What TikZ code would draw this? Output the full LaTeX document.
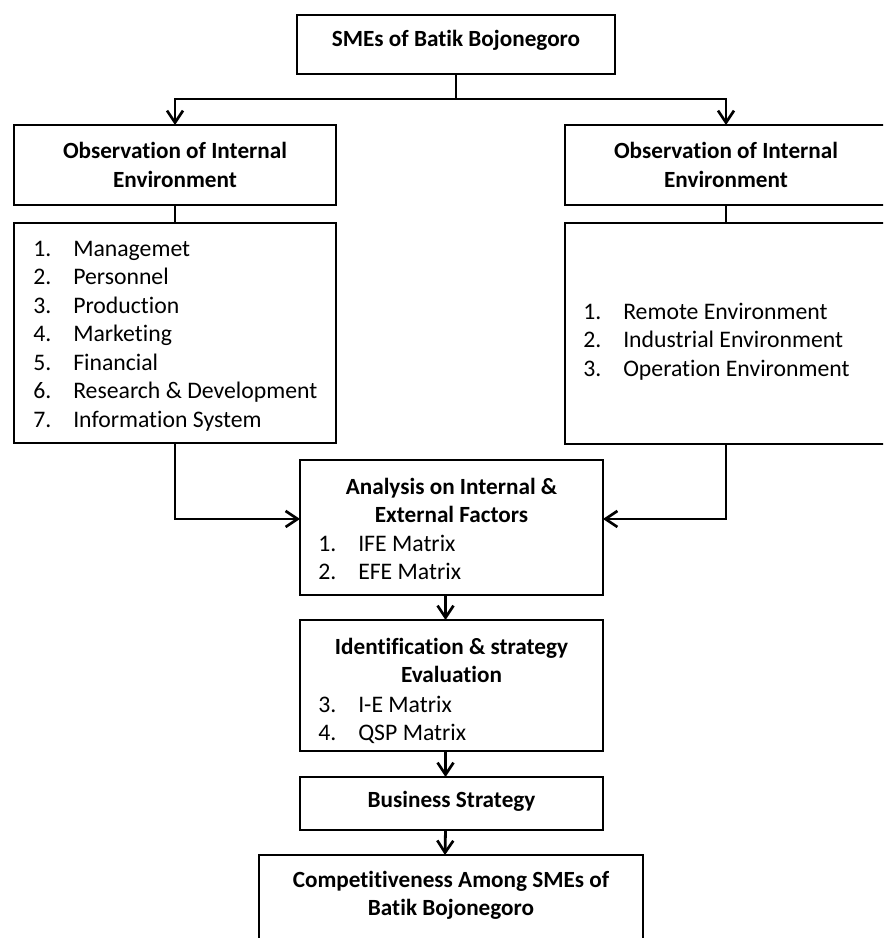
\documentclass[tikz,border=0pt]{standalone}
\usepackage{fontspec}
\setmainfont{Carlito}[Ligatures=NoCommon]
\usetikzlibrary{arrows.meta}
\begin{document}
\begin{tikzpicture}[x=0.75pt,y=-0.75pt,
  box/.style={draw=black, line width=2.1pt, inner sep=0pt, outer sep=0pt, anchor=north west},
  ttl/.style={inner sep=0pt, anchor=base, font=\fontsize{17.4}{21.2}\selectfont\bfseries},
  lst/.style={inner sep=0pt, anchor=base west, font=\fontsize{17.8}{21.4}\selectfont},
  conn/.style={line width=2.1pt},
  arr/.style={conn, -{Straight Barb[length=9pt,width=12pt,line width=2pt]}}]
\useasboundingbox (0,0) rectangle (883,938);
\clip (0,0) rectangle (883,938);
\fill[white] (0,0) rectangle (883,938);

% boxes
\node[box, minimum width=238.5pt, minimum height=44.25pt] (top) at (297,15) {};
\node[box, minimum width=241.5pt, minimum height=60pt] (obsL) at (14,125) {};
\node[box, minimum width=241.5pt, minimum height=60pt] (obsR) at (565,125) {};
\node[box, minimum width=241.5pt, minimum height=165pt] (listL) at (14,223) {};
\node[box, minimum width=241.5pt, minimum height=165.75pt] (listR) at (565,223) {};
\node[box, minimum width=227.25pt, minimum height=101.25pt] (ana) at (300,460) {};
\node[box, minimum width=227.25pt, minimum height=98.25pt] (ident) at (300,620) {};
\node[box, minimum width=227.25pt, minimum height=39.75pt] (bus) at (300,777) {};
\node[box, minimum width=288pt, minimum height=75pt] (comp) at (259,855) {};

% texts
\node[ttl] (tTop) at (456,47) {SMEs of Batik Bojonegoro};
\node[ttl] (tObsL) at (175,159) {\begin{tabular}[t]{@{}c@{}}Observation of Internal\\Environment\end{tabular}};
\node[ttl] (tObsR) at (726,159) {\begin{tabular}[t]{@{}c@{}}Observation of Internal\\Environment\end{tabular}};
\node[lst] (iL) at (33,256) {\begin{tabular}[t]{@{}p{30pt}@{}l@{}}
1.&Managemet\\2.&Personnel\\3.&Production\\4.&Marketing\\5.&Financial\\6.&Research \& Development\\7.&Information System\end{tabular}};
\node[lst] (iR) at (583,319) {\begin{tabular}[t]{@{}p{30pt}@{}l@{}}
1.&Remote Environment\\2.&Industrial Environment\\3.&Operation Environment\end{tabular}};
\node[ttl] (tAna) at (451.5,494) {\begin{tabular}[t]{@{}c@{}}Analysis on Internal \&\\External Factors\end{tabular}};
\node[lst] (iAna) at (318,551) {\begin{tabular}[t]{@{}p{30pt}@{}l@{}}
1.&IFE Matrix\\2.&EFE Matrix\end{tabular}};
\node[ttl] (tIdent) at (451.5,654) {\begin{tabular}[t]{@{}c@{}}Identification \& strategy\\Evaluation\end{tabular}};
\node[lst] (iIdent) at (318,712) {\begin{tabular}[t]{@{}p{30pt}@{}l@{}}
3.&I-E Matrix\\4.&QSP Matrix\end{tabular}};
\node[ttl] (tBus) at (451.5,807) {Business Strategy};
\node[ttl] (tComp) at (451,887) {\begin{tabular}[t]{@{}c@{}}Competitiveness Among SMEs of\\Batik Bojonegoro\end{tabular}};

% connectors
\coordinate (split) at ([yshift=-18.75pt]top.south);
\draw[conn] (top.south) -- (split);
\draw[arr] (split) -| (obsL.north);
\draw[arr] (split) -| (obsR.north);
\draw[conn] (obsL.south) -- (listL.north);
\draw[conn] (obsR.south) -- (listR.north);
\draw[arr] (listL.south) |- ([yshift=6.4pt]ana.west);
\draw[arr] (listR.south) |- ([yshift=6.4pt]ana.east);
\draw[arr] ([xshift=-4.5pt]ana.south) -- ([xshift=-4.5pt]ident.north);
\draw[arr] ([xshift=-4.5pt]ident.south) -- ([xshift=-4.5pt]bus.north);
\draw[arr] ([xshift=-4.5pt]bus.south) -- ([xshift=-4.5pt]comp.north);
\end{tikzpicture}
\end{document}
